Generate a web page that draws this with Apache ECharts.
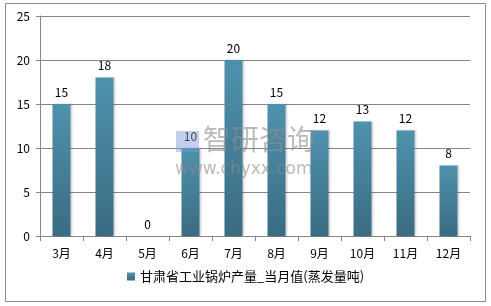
<!DOCTYPE html>
<html><head><meta charset="utf-8">
<script src="https://cdn.jsdelivr.net/npm/echarts@6/dist/echarts.min.js"></script>
<style>html,body{margin:0;padding:0;background:#fff}#c{width:491px;height:306px}</style>
</head><body><div id="c"></div>
<script>
const categories = ['3月','4月','5月','6月','7月','8月','9月','10月','11月','12月'];
const values = [15, 18, 0, 10, 20, 15, 12, 13, 12, 8];
const seriesName = '甘肃省工业锅炉产量_当月值(蒸发量吨)';
const yTicks = [0, 5, 10, 15, 20, 25];

const chart = echarts.init(document.getElementById('c'));
const font = '"Microsoft YaHei","Noto Sans CJK SC",sans-serif';
chart.setOption({
  animation: false,
  graphic: [
    {type:'rect', shape:{x:5.5,y:3.5,width:480,height:298}, style:{fill:'none',stroke:'#8c8c8c',lineWidth:1}, z:-1},
    {type:'text', left:203, top:125, style:{text:'智研咨询', font:'28px "Noto Sans CJK SC"', fill:'rgba(140,140,140,0.6)'}, z:10},
    {type:'text', left:175, top:161, style:{text:'www.chyxx.com', font:'17px "DejaVu Sans"', fill:'rgba(140,140,140,0.6)'}, z:10},
    {type:'rect', shape:{x:176,y:131,width:23,height:21}, style:{fill:'rgba(120,150,210,0.45)'}, z:9}
  ],
  grid: {left:40, right:21, top:16, bottom:70},
  legend: {
    bottom: 18, left: 'center', itemWidth: 8, itemHeight: 8, icon: 'rect',
    textStyle: {fontSize: 13, color:'#000', fontFamily: font},
    data: [seriesName]
  },
  xAxis: {
    type: 'category', data: categories,
    axisLine: {lineStyle: {color:'#868686'}},
    axisTick: {show:true, length:5, lineStyle:{color:'#868686'}},
    axisLabel: {color:'#000', fontSize:12, margin:11, fontFamily: font}
  },
  yAxis: {
    type: 'value', min: yTicks[0], max: yTicks[yTicks.length-1], interval: 5,
    axisLine: {show:true, lineStyle: {color:'#868686'}},
    axisTick: {show:true, length:4, lineStyle:{color:'#868686'}},
    splitLine: {lineStyle: {color:'#868686'}},
    axisLabel: {color:'#000', fontSize:12, margin:10, fontFamily: font}
  },
  series: [{
    name: seriesName, type: 'bar', data: values, barWidth: 18,
    itemStyle: {
      color: new echarts.graphic.LinearGradient(0,0,0,1,[{offset:0,color:'#4F91AD'},{offset:1,color:'#3A6C82'}]),
      shadowColor:'rgba(0,0,0,0.2)', shadowBlur:2, shadowOffsetX:1
    },
    label: {show:true, position:'top', color:'#000', fontSize:12, distance:6, fontFamily: font}
  }]
});
</script></body></html>
